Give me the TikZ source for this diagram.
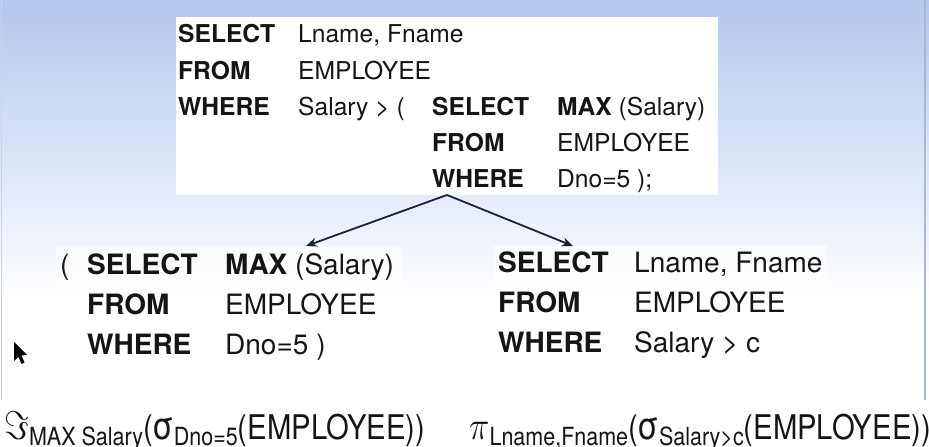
\RequirePackage{fix-cm}
\documentclass[tikz,border=0pt]{standalone}
\usepackage{fontspec}
\setmainfont{TeX Gyre Heros}
\usetikzlibrary{arrows.meta}
\definecolor{bgtop}{HTML}{B3C7EE}
\definecolor{edgeline}{HTML}{A9B8D0}
\definecolor{ink}{HTML}{151515}
\definecolor{arrowink}{HTML}{1A2233}
\newcommand{\fsub}[1]{\raisebox{-6.5bp}{\fontsize{25bp}{25bp}\selectfont #1}}
\newcommand{\fsym}[1]{{\fontsize{40bp}{40bp}\selectfont$#1$}}
\newcommand{\fsig}{{\fontsize{38bp}{38bp}\selectfont σ}}
\begin{document}
\begin{tikzpicture}[x=1bp,y=-1bp,
  sqltop/.style={anchor=base west, inner sep=0pt, text=ink, font=\fontsize{24.6bp}{30bp}\selectfont},
  sqlbot/.style={anchor=base west, inner sep=0pt, text=ink, font=\fontsize{28bp}{33bp}\selectfont},
  formula/.style={anchor=base west, inner sep=0pt, text=ink, font=\fontsize{34bp}{40bp}\selectfont},
  link/.style={draw=arrowink, line width=1.8bp, -{Stealth[length=11bp,width=9bp]}},
  panel/.style={fill=white, draw=none}]
\useasboundingbox (0,0) rectangle (929,447);
% background
\fill[white] (0,0) rectangle (929,447);
\shade[top color=bgtop, bottom color=white] (0,0) rectangle (929,300);
\draw[edgeline, line width=1.5bp] (925,0) -- (925,400);
\draw[edgeline!60, line width=1bp] (1,0) -- (1,400);
% panels
\fill[panel] (176,17) rectangle (718,195);
\fill[panel, opacity=0.6] (56,247) rectangle (402,372);
\fill[panel, opacity=0.6] (494,245) rectangle (827,372);
% top query
\node[sqltop] (t1a) at (178,43) {\textbf{SELECT}};
\node[sqltop] (t1b) at (298,43) {Lname, Fname};
\node[sqltop] (t2a) at (178,79.5) {\textbf{FROM}};
\node[sqltop] (t2b) at (298,79.5) {EMPLOYEE};
\node[sqltop] (t3a) at (178,116) {\textbf{WHERE}};
\node[sqltop] (t3b) at (298,116) {Salary > (};
\node[sqltop] (t3c) at (432,116) {\textbf{SELECT}};
\node[sqltop] (t3d) at (557,116) {\textbf{MAX} (Salary)};
\node[sqltop] (t4c) at (432,152) {\textbf{FROM}};
\node[sqltop] (t4d) at (557,152) {EMPLOYEE};
\node[sqltop] (t5c) at (432,188) {\textbf{WHERE}};
\node[sqltop] (t5d) at (557,188) {Dno=5 );};
% bottom left query
\node[sqlbot] (l0) at (60,275) {(};
\node[sqlbot] (l1a) at (87,275) {\textbf{SELECT}};
\node[sqlbot] (l1b) at (225,275) {\textbf{MAX} (Salary)};
\node[sqlbot] (l2a) at (87,315) {\textbf{FROM}};
\node[sqlbot] (l2b) at (225,315) {EMPLOYEE};
\node[sqlbot] (l3a) at (87,355) {\textbf{WHERE}};
\node[sqlbot] (l3b) at (225,355) {Dno=5 )};
% bottom right query
\node[sqlbot] (r1a) at (498,273) {\textbf{SELECT}};
\node[sqlbot] (r1b) at (634,273) {Lname, Fname};
\node[sqlbot] (r2a) at (498,313) {\textbf{FROM}};
\node[sqlbot] (r2b) at (634,313) {EMPLOYEE};
\node[sqlbot] (r3a) at (498,353) {\textbf{WHERE}};
\node[sqlbot] (r3b) at (634,353) {Salary > c};
% arrows
\coordinate (apex) at (447,195);
\coordinate (ltip) at (306,246);
\coordinate (rtip) at (573,246);
\draw[link] (apex) -- (ltip);
\draw[link] (apex) -- (rtip);
% formulas
\node[formula] (fl) at (4,439) {\scalebox{0.86}[1]{\fsym{\Im}\fsub{MAX Salary}(\fsig\fsub{Dno=5}(EMPLOYEE))}};
\node[formula] (fr) at (469,439) {\scalebox{0.86}[1]{\fsym{\pi}\fsub{Lname,Fname}(\fsig\fsub{Salary>c}(EMPLOYEE))}};
% mouse pointer
\fill[black] (14,342) -- (14,361) -- (18.5,357) -- (21.5,364) -- (24.5,362.5) -- (21.5,355.5) -- (27,355) -- cycle;
\end{tikzpicture}
\end{document}
